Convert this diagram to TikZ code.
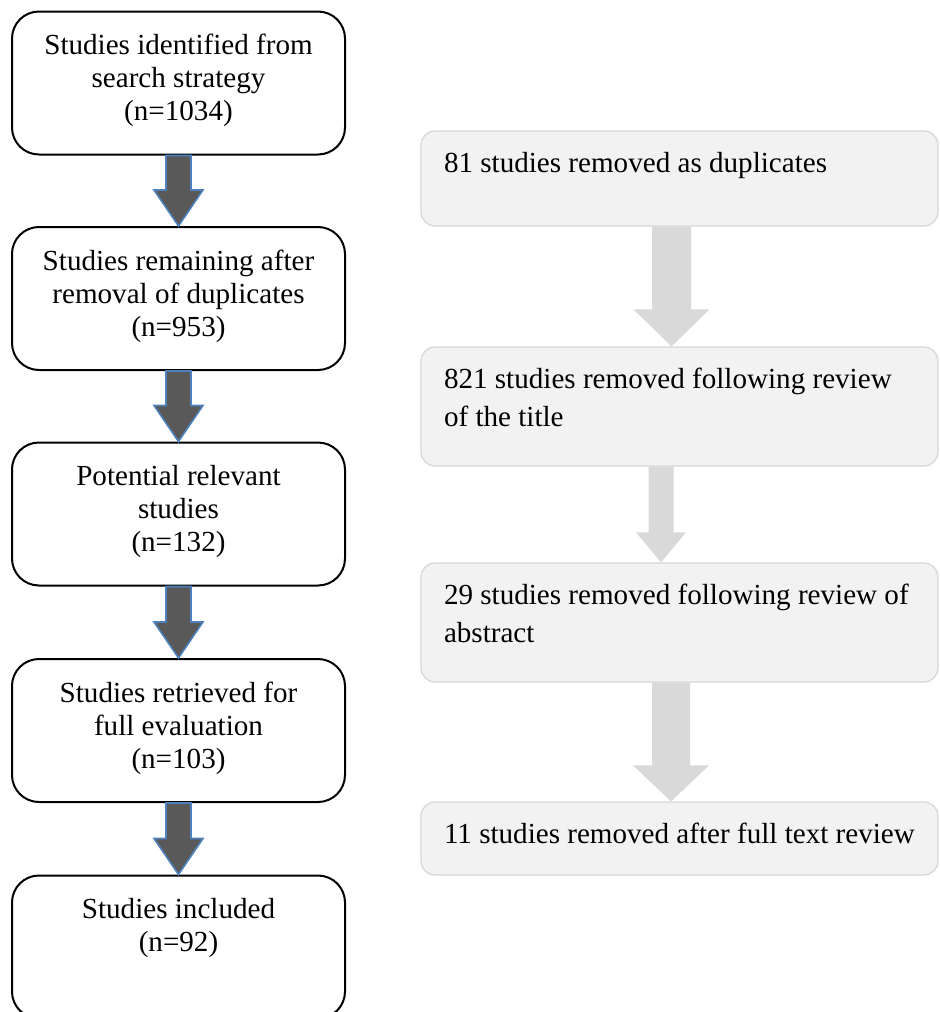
\documentclass[tikz,border=0pt]{standalone}
\usepackage{fontspec}
\setmainfont{Liberation Serif}
\usetikzlibrary{calc}

\definecolor{arrowdark}{HTML}{595959}
\definecolor{arrowedge}{HTML}{4F81BD}
\definecolor{arrowlight}{HTML}{D9D9D9}
\definecolor{notefill}{HTML}{F2F2F2}
\definecolor{noteedge}{HTML}{D6D6D6}

% block arrow: style, top point, tip point, shaft half width, head half width, head length
\newcommand{\blockarrow}[6]{%
  \path[#1] let \p1=#2, \p2=#3 in
    (\x1-#4,\y1) -- (\x1+#4,\y1) -- (\x1+#4,\y2+#6) -- (\x1+#5,\y2+#6)
    -- (\x1,\y2) -- (\x1-#5,\y2+#6) -- (\x1-#4,\y2+#6) -- cycle;}

\newcommand{\steptext}[1]{\parbox[c][71.5pt][t]{166.5pt}{\centering\fontsize{14.55pt}{16.5pt}\selectfont\rule{0pt}{21.5pt}#1}}
\newcommand{\notetext}[2]{\parbox[c][#1][t]{235.5pt}{\raggedright\fontsize{14.55pt}{19.25pt}\selectfont\rule{0pt}{20.5pt}#2}}

\begin{document}
\begin{tikzpicture}[x=0.5pt, y=-0.5pt,
    stepbox/.style={draw=black, line width=1pt, rounded corners=13.5pt, inner sep=0pt, fill=white},
    notebox/.style={draw=noteedge, line width=0.6pt, fill=notefill, rounded corners=7pt, inner xsep=11.5pt, inner ysep=0pt},
    darkarrow/.style={fill=arrowdark, draw=arrowedge, line width=0.8pt},
    lightarrow/.style={fill=arrowlight}]
    \useasboundingbox (0,0) rectangle (939,1012);

    % left column
    \node[stepbox] (s1) at (178.5,83) {\steptext{Studies identified from\\search strategy\\(n=1034)}};
    \node[stepbox] (s2) at (178.5,298.5) {\steptext{Studies remaining after\\removal of duplicates\\(n=953)}};
    \node[stepbox] (s3) at (178.5,514) {\steptext{Potential relevant\\studies\\(n=132)}};
    \node[stepbox] (s4) at (178.5,730.5) {\steptext{Studies retrieved for\\full evaluation\\(n=103)}};
    \node[stepbox] (s5) at (178.5,947) {\steptext{Studies included\\(n=92)}};

    \foreach \a/\b in {s1/s2, s2/s3, s3/s4, s4/s5}
        \blockarrow{darkarrow}{(\a.south)}{(\b.north)}{6.25pt}{12.25pt}{18pt};

    % right column
    \node[notebox] (r1) at (679.5,178.5) {\notetext{47.5pt}{81 studies removed as duplicates}};
    \node[notebox] (r2) at (679.5,406.5) {\notetext{59.5pt}{821 studies removed following review\\of the title}};
    \node[notebox] (r3) at (679.5,622.5) {\notetext{59.5pt}{29 studies removed following review of\\abstract}};
    \node[notebox] (r4) at (679.5,838.5) {\notetext{36.5pt}{11 studies removed after full text review}};

    \blockarrow{lightarrow}{([xshift=-4pt]r1.south)}{([xshift=-4pt]r2.north)}{9.75pt}{19pt}{18.5pt}
    \blockarrow{lightarrow}{([xshift=-9.25pt]r2.south)}{([xshift=-9.25pt]r3.north)}{6.25pt}{12.5pt}{15pt}
    \blockarrow{lightarrow}{([xshift=-4.25pt]r3.south)}{([xshift=-4.25pt]r4.north)}{9.5pt}{19pt}{18pt}
\end{tikzpicture}
\end{document}
